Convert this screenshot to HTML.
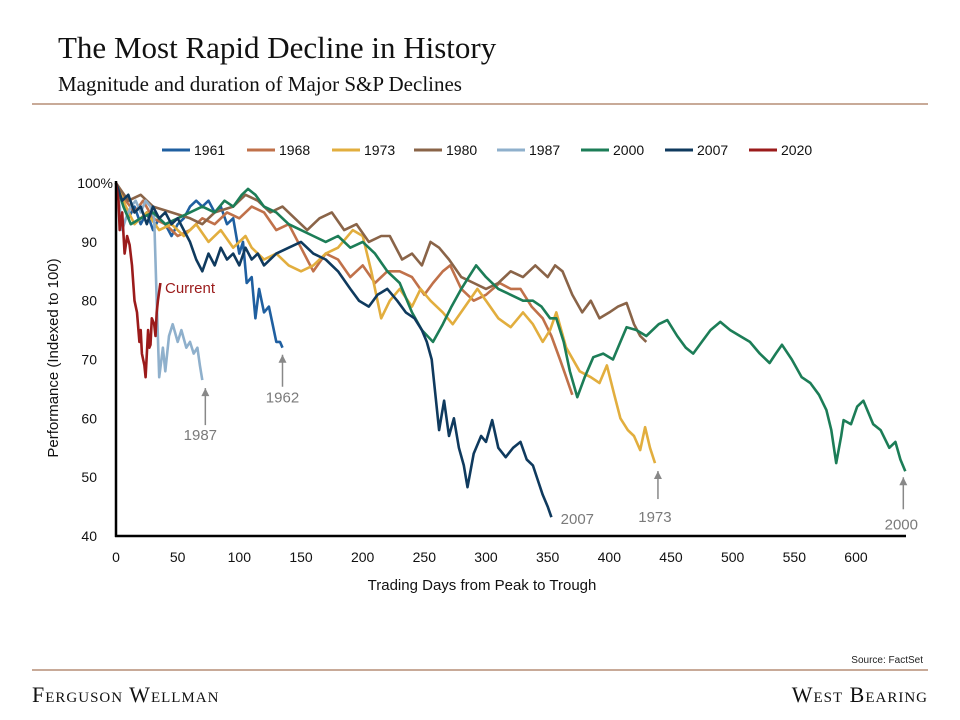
<!DOCTYPE html>
<html><head><meta charset="utf-8">
<style>
body{margin:0;background:#fff;width:960px;height:720px;overflow:hidden;font-family:"Liberation Sans",sans-serif;}
.t{position:absolute;font-family:"Liberation Serif",serif;color:#111;}
</style></head><body>
<div class="t" style="left:58px;top:30px;font-size:31px;">The Most Rapid Decline in History</div>
<div class="t" style="left:58px;top:72px;font-size:21px;">Magnitude and duration of Major S&amp;P Declines</div>
<div style="position:absolute;left:32px;top:103px;width:896px;height:2px;background:#c8aa98"></div>
<div style="position:absolute;left:32px;top:669px;width:896px;height:2px;background:#c8aa98"></div>
<div style="position:absolute;right:37px;top:655px;font-size:10px;color:#222">Source: FactSet</div>
<div class="t" style="left:32px;top:682px;font-size:22px;font-variant:small-caps;letter-spacing:1px">Ferguson Wellman</div>
<div class="t" style="right:32px;top:682px;font-size:22px;font-variant:small-caps;letter-spacing:1px">West Bearing</div>
<svg id="c" width="960" height="720" style="position:absolute;left:0;top:0" font-family="Liberation Sans, sans-serif"></svg>
<script>
const seriesNames=["1961","1968","1973","1980","1987","2000","2007","2020"];
const seriesColors=["#1f5fa0","#c0714a","#e2ae3e","#8a6448","#8fb0cc","#1c7d57","#0f3a5e","#9b1b1b"];
const s1961=[[0,100],[5,97],[10,94],[15,96],[20,93],[25,95],[30,92],[35,94],[40,93],[45,91],[50,93],[55,94],[60,96],[65,97],[70,96],[75,97],[80,95],[85,96],[90,93],[95,94],[100,88],[103,90],[106,83],[110,84],[113,77],[116,82],[120,78],[124,79],[127,76],[130,73],[133,73],[135,72]];
const s1968=[[0,100],[8,97],[15,95],[22,97],[30,94],[40,93],[50,91],[60,92],[70,94],[80,93],[90,95],[100,94],[110,96],[120,95],[130,92],[140,93],[150,89],[160,85],[170,88],[180,87],[190,84],[200,86],[210,83],[220,85],[230,85],[240,84],[250,81],[257,83],[265,85],[271,86],[280,82],[290,80],[300,81],[311,83],[320,82],[328,82],[337,79],[346,77],[353,74],[360,70],[365,67],[370,64]];
const s1973=[[0,100],[8,96],[15,93],[25,95],[35,92],[45,93],[55,91],[65,93],[75,90],[85,92],[95,89],[105,91],[110,89],[120,87],[130,88],[140,86],[150,85],[160,86],[170,88],[180,89],[192,92],[200,91],[207,85],[215,77],[222,80],[230,82],[240,79],[247,82],[255,80],[265,78],[273,76],[283,79],[293,82],[300,80],[310,77],[320,75.5],[330,78],[338,76],[346,73],[352,75],[357,78],[365,72],[376,68],[385,67],[392,66],[398,69],[404,64],[409,60],[415,58],[420,57],[425,54.6],[429,58.5],[433,55],[437,52.4]];
const s1980=[[0,100],[10,97],[20,98],[30,96],[45,95],[60,94],[70,93],[80,95],[95,96],[105,98],[115,97],[125,95],[135,96],[145,94],[155,92],[165,94],[175,95],[185,92],[195,93],[205,90],[215,91],[222,91],[232,87],[240,88],[248,86],[255,90],[262,89],[270,87],[280,84],[290,83],[300,82],[310,83],[320,85],[330,84],[340,86],[350,84],[356,86],[362,85],[370,81],[378,78],[385,80],[392,77],[400,78],[407,79],[414,79.6],[420,76],[425,74],[430,73]];
const s1987=[[0,100],[3,96],[5,92],[8,94],[12,96],[16,97],[20,95],[24,97],[28,96],[31,94],[33,80],[35,67],[38,72],[40,68],[43,74],[46,76],[50,73],[53,75],[57,72],[60,73],[63,71],[66,72],[68,69],[70,66.5]];
const s2000=[[0,100],[6,96],[12,93],[20,94],[30,95],[40,93],[50,94],[60,95],[70,96],[80,95],[88,97],[95,96],[102,98],[107,99],[113,98],[120,96],[130,95],[140,93],[150,92],[160,91],[170,90],[180,91],[190,89],[200,90],[210,88],[220,85],[230,83],[240,78],[248,75],[257,73],[265,76],[272,79],[280,82],[286,84],[292,86],[300,84],[310,82],[320,81],[330,80],[338,80],[345,79],[352,77],[357,77],[363,73],[368,68],[374,63.6],[380,67],[387,70.4],[395,71],[403,70],[409,73],[414,75.5],[422,75],[430,74],[440,76],[447,76.7],[455,74],[462,72],[468,71],[475,73],[482,75],[490,76.4],[498,75],[506,74],[514,73],[522,71],[530,69.4],[535,71],[540,72.5],[548,70],[556,67],[563,66],[570,64],[576,61.4],[580,58],[584,52.4],[588,57],[590,59.7],[596,59],[601,62],[606,63],[610,61],[614,59],[620,58],[627,55],[632,56],[636,53],[640,51]];
const s2007=[[0,100],[5,97],[10,98],[15,95],[20,96],[25,93],[30,96],[35,94],[40,95],[45,93],[50,94],[55,92],[60,90],[65,87],[70,85],[75,88],[80,86],[85,89],[90,87],[95,88],[100,86],[105,89],[110,87],[115,88],[120,86],[130,88],[140,89],[150,90],[160,88],[170,87],[180,85],[190,82],[197,80],[205,79],[212,81],[220,82],[228,80],[235,78],[242,77],[248,75],[252,73],[256,70],[259,64],[262,58],[266,63],[270,57],[274,60],[278,55],[282,52],[285,48.3],[290,54],[296,57],[300,56],[305,59.7],[310,55],[316,53.4],[322,55],[328,56],[333,53],[338,52],[342,49.5],[346,47],[350,45],[353,43.2]];
const s2020=[[0,100],[2,97],[3,92],[5,95],[7,88],[9,91],[11,89.5],[13,86],[15,80],[17,78],[19,73],[20,75],[21,71],[23,69],[24,67],[26,75],[27,72],[28,72.5],[29,77],[31,76],[32,74],[33,78],[34,80],[36,83]];
const allSeries=[s1961,s1968,s1973,s1980,s1987,s2000,s2007,s2020];
const xTicks=[0,50,100,150,200,250,300,350,400,450,500,550,600];
const yTicks=[40,50,60,70,80,90,100];
const annotations=[["1987",70,66.5,"Current"],["1962",135,72],["2007",353,43.2],["1973",437,52.4],["2000",640,51]];
const NS="http://www.w3.org/2000/svg";
const svg=document.getElementById('c');
const X=d=>116+d*1.2333;
const Y=v=>536-(v-40)*5.883;
function el(t,a){const e=document.createElementNS(NS,t);for(const k in a)e.setAttribute(k,a[k]);svg.appendChild(e);return e;}
// legend
const legX=[162,247,332,414,497,581,665,749];
seriesNames.forEach((n,i)=>{
 const l=el('line',{x1:legX[i],x2:legX[i]+28,y1:150,y2:150,stroke:seriesColors[i],'stroke-width':3});
 
 
 const t=el('text',{x:legX[i]+32,y:155,'font-size':14,fill:'#111'});t.textContent=n;
 
 
});
// series
allSeries.forEach((s,i)=>{
 const p=el('polyline',{points:s.map(q=>X(q[0]).toFixed(1)+','+Y(q[1]).toFixed(1)).join(' '),fill:'none',stroke:seriesColors[i],'stroke-width':2.6,'stroke-linejoin':'round'});
 
 
});
// axes
const ya=el('line',{x1:116,x2:116,y1:181,y2:537,stroke:'#000','stroke-width':2.5});


const xa=el('line',{x1:115,x2:906,y1:536,y2:536,stroke:'#000','stroke-width':2.5});


xTicks.forEach(v=>{const t=el('text',{x:X(v),y:562,'font-size':14,'text-anchor':'middle',fill:'#111'});t.textContent=v;
 
 });
yTicks.forEach(v=>{const t=el('text',{x:v==100?113:97,y:Y(v)+5,'font-size':14,'text-anchor':'end',fill:'#111'});t.textContent=v==100?'100%':v;
 
 });
const xt=el('text',{x:482,y:590,'font-size':15,'text-anchor':'middle',fill:'#111'});xt.textContent='Trading Days from Peak to Trough';


const yt=el('text',{x:0,y:0,'font-size':15,'text-anchor':'middle',fill:'#111',transform:'translate(58,358) rotate(-90)'});yt.textContent='Performance (Indexed to 100)';


// annotations
annotations.forEach(a=>{
 const x=X(a[1]),y=Y(a[2]);
 let ax=x, lx=x, ly;
 if(a[0]==='1987'){ax=x+3;ly=y+60;el('line',{x1:ax,x2:ax,y1:y+8,y2:y+45,stroke:'#888','stroke-width':1.5});el('polygon',{points:`${ax-4},${y+16} ${ax+4},${y+16} ${ax},${y+8}`,fill:'#888'});lx=x-2;}
 else if(a[0]==='1962'){ly=y+55;el('line',{x1:x,x2:x,y1:y+7,y2:y+39,stroke:'#888','stroke-width':1.5});el('polygon',{points:`${x-4},${y+15} ${x+4},${y+15} ${x},${y+7}`,fill:'#888'});}
 else if(a[0]==='2007'){lx=x+26;ly=y+7;}
 else if(a[0]==='1973'){ax=x+3;lx=x;ly=y+59;el('line',{x1:ax,x2:ax,y1:y+8,y2:y+36,stroke:'#888','stroke-width':1.5});el('polygon',{points:`${ax-4},${y+16} ${ax+4},${y+16} ${ax},${y+8}`,fill:'#888'});}
 else {ax=x-2;lx=x-4;ly=y+58;el('line',{x1:ax,x2:ax,y1:y+6,y2:y+38,stroke:'#888','stroke-width':1.5});el('polygon',{points:`${ax-4},${y+14} ${ax+4},${y+14} ${ax},${y+6}`,fill:'#888'});}
 const t=el('text',{x:lx,y:ly,'font-size':15,'text-anchor':'middle',fill:'#7a7a7a'});t.textContent=a[0];
 
 
});
const cur=el('text',{x:165,y:293,'font-size':15,fill:'#9b1b1b'});cur.textContent='Current';


</script>
</body></html>
